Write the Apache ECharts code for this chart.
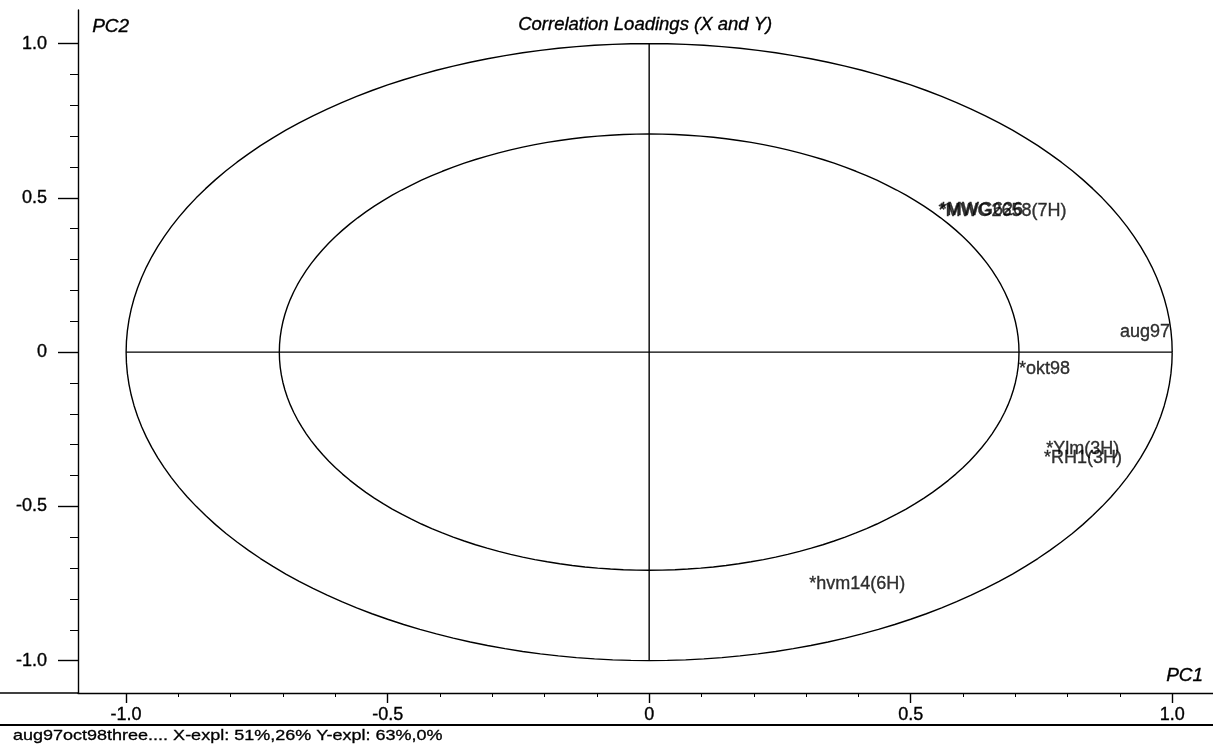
<!DOCTYPE html>
<html>
<head>
<meta charset="utf-8">
<script src="https://cdn.jsdelivr.net/npm/echarts@6/dist/echarts.min.js"></script>
<style>
  html, body { margin: 0; padding: 0; background: #fff; }
  #chart { width: 1213px; height: 752px; }
</style>
</head>
<body>
<div id="chart"></div>
<script>
// Correlation loadings, PC1 vs PC2
const pointNames = ['*MWG2658(7H)', '*MWG626', '*okt98', '*Ylm(3H)', '*RH1(3H)', '*hvm14(6H)', 'aug97'];
const pc1Values = [0.553, 0.556, 0.707, 0.759, 0.755, 0.306, 0.996];
const pc2Values = [0.457, 0.459, -0.054, -0.313, -0.342, -0.752, 0.066];
const labelSides = ['right', 'right', 'right', 'right', 'right', 'right', 'left'];

// reference ellipses: 100% and 50% explained variance
const circleRadii = [1.0, 0.7071];

const majorTicks = [-1.0, -0.5, 0, 0.5, 1.0];
const minorTicks = [-1.0, -0.9, -0.8, -0.7, -0.6, -0.5, -0.4, -0.3, -0.2, -0.1, 0,
                    0.1, 0.2, 0.3, 0.4, 0.5, 0.6, 0.7, 0.8, 0.9, 1.0];

const titleText = 'Correlation Loadings (X and Y)';
const footerText = 'aug97oct98three.... X-expl: 51%,26% Y-expl: 63%,0%';

const FONT = '"Liberation Sans", Arial, sans-serif';
const INK = '#000';
const heavy = { textBorderColor: INK, textBorderWidth: 0.35 };

function circlePoints(r) {
  const pts = [];
  for (let a = 0; a <= 360; a += 2) {
    const t = a * Math.PI / 180;
    pts.push([r * Math.cos(t), r * Math.sin(t)]);
  }
  return pts;
}

const fmt = v => (Math.abs(v) < 1e-9 ? '0' : v.toFixed(1));

const chart = echarts.init(document.getElementById('chart'), null, { renderer: 'canvas' });

const lineStyle = { color: INK, width: 1.4 };

const series = [];
circleRadii.forEach(r => {
  series.push({
    type: 'line', data: circlePoints(r), showSymbol: false, silent: true,
    lineStyle: lineStyle, animation: false, z: 2
  });
});
series.push({
  type: 'line', data: [[-1, 0], [1, 0]], showSymbol: false, silent: true,
  lineStyle: lineStyle, animation: false, z: 2
});
series.push({
  type: 'line', data: [[0, -1], [0, 1]], showSymbol: false, silent: true,
  lineStyle: lineStyle, animation: false, z: 2
});
series.push({
  type: 'scatter',
  symbolSize: 0,
  animation: false,
  z: 5,
  data: pointNames.map((n, i) => ({
    name: n,
    value: [pc1Values[i], pc2Values[i]],
    label: { position: labelSides[i] }
  })),
  label: Object.assign({
    show: true,
    formatter: p => p.name,
    distance: 0,
    color: INK,
    fontFamily: FONT,
    fontSize: 18
  }, heavy)
});

const baseAxis = {
  type: 'value',
  splitLine: { show: false },
  axisLine: { show: false, onZero: false },
  axisLabel: { show: false },
  axisTick: { show: false }
};

const tickLabel = Object.assign({ color: INK, fontFamily: FONT, fontSize: 18 }, heavy);

chart.setOption({
  backgroundColor: '#fff',
  animation: false,
  grid: { left: 78, right: 0, top: 10, bottom: 59 },
  xAxis: [
    Object.assign({}, baseAxis, {
      min: -1.092, max: 1.078, position: 'bottom',
      axisLine: { show: true, onZero: false, lineStyle: { color: INK, width: 1.4 } },
      axisTick: { show: true, customValues: majorTicks, length: 10, lineStyle: { color: INK, width: 1.4 } },
      axisLabel: Object.assign({ show: true, customValues: majorTicks, formatter: fmt, margin: 13 }, tickLabel)
    }),
    Object.assign({}, baseAxis, {
      min: -1.092, max: 1.078, position: 'bottom',
      axisTick: { show: true, customValues: minorTicks, length: 4, lineStyle: { color: INK, width: 1 } }
    })
  ],
  yAxis: [
    Object.assign({}, baseAxis, {
      min: -1.105, max: 1.109, position: 'left',
      axisLine: { show: true, onZero: false, lineStyle: { color: INK, width: 1.4 } },
      axisTick: { show: true, customValues: majorTicks, length: 20, lineStyle: { color: INK, width: 1.4 } },
      axisLabel: Object.assign({ show: true, customValues: majorTicks, formatter: fmt, margin: 31 }, tickLabel)
    }),
    Object.assign({}, baseAxis, {
      min: -1.105, max: 1.109, position: 'left',
      axisTick: { show: true, customValues: minorTicks, length: 8, lineStyle: { color: INK, width: 1 } }
    })
  ],
  series: series,
  graphic: [
    { type: 'text', left: 518, top: 15,
      style: { text: titleText, fontFamily: FONT, fontSize: 18.5, fontStyle: 'italic', fill: INK, stroke: INK, lineWidth: 0.35 } },
    { type: 'text', left: 92, top: 17,
      style: { text: 'PC2', fontFamily: FONT, fontSize: 19, fontStyle: 'italic', fill: INK, stroke: INK, lineWidth: 0.35 } },
    { type: 'text', left: 1166, top: 666,
      style: { text: 'PC1', fontFamily: FONT, fontSize: 19, fontStyle: 'italic', fill: INK, stroke: INK, lineWidth: 0.35 } },
    // run info line, printed in a slightly wide face
    { type: 'text', x: 13, y: 728, scaleX: 1.2, scaleY: 1,
      style: { text: footerText, fontFamily: FONT, fontSize: 15, fill: INK, stroke: INK, lineWidth: 0.3 } },
    // x-axis baseline continues to the left page edge
    { type: 'line', shape: { x1: 0, y1: 693, x2: 78, y2: 693 },
      style: { stroke: INK, lineWidth: 1.4 } },
    // rule under the tick labels
    { type: 'line', shape: { x1: 0, y1: 725, x2: 1213, y2: 725 },
      style: { stroke: INK, lineWidth: 1.8 } }
  ]
});
</script>
</body>
</html>
